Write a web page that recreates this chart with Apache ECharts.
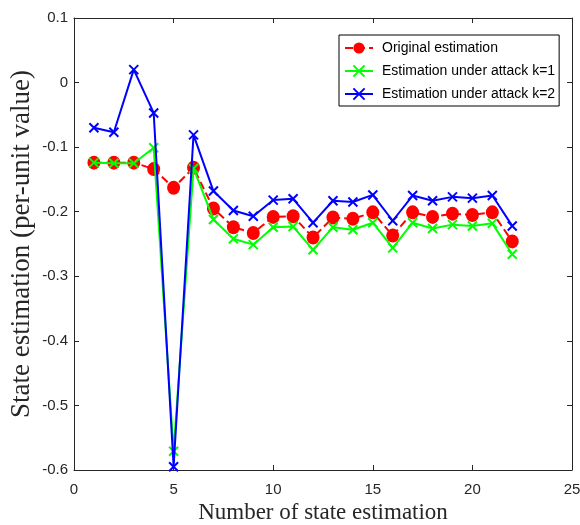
<!DOCTYPE html>
<html>
<head>
<meta charset="utf-8">
<script src="https://cdn.jsdelivr.net/npm/echarts@6/dist/echarts.min.js"></script>
<style>
html,body{margin:0;padding:0;background:#fff;}
#chart{width:580px;height:525px;}
</style>
</head>
<body>
<div id="chart"></div>
<script>
const stateIndex = [1,2,3,4,5,6,7,8,9,10,11,12,13,14,15,16,17,18,19,20,21,22];
const originalEst = [-0.124,-0.124,-0.124,-0.134,-0.163,-0.132,-0.195,-0.224,-0.233,-0.208,-0.207,-0.240,-0.209,-0.211,-0.201,-0.237,-0.201,-0.208,-0.203,-0.205,-0.201,-0.246];
const attackK1 = [-0.124,-0.125,-0.125,-0.101,-0.571,-0.133,-0.212,-0.242,-0.251,-0.224,-0.223,-0.259,-0.224,-0.228,-0.217,-0.256,-0.217,-0.226,-0.220,-0.222,-0.218,-0.266];
const attackK2 = [-0.070,-0.077,0.020,-0.047,-0.595,-0.081,-0.168,-0.198,-0.207,-0.182,-0.180,-0.217,-0.183,-0.185,-0.174,-0.214,-0.175,-0.183,-0.177,-0.179,-0.175,-0.222];
const seriesNames = ['Original estimation','Estimation under attack k=1','Estimation under attack k=2'];
const xTicks = [0,5,10,15,20,25];
const yTicks = [-0.6,-0.5,-0.4,-0.3,-0.2,-0.1,0,0.1];

const pair = arr => stateIndex.map((x,i)=>[x,arr[i]]);
const crossPath = 'path://M0,0L10,10M10,0L0,10';
const axisCol = '#262626';

const chart = echarts.init(document.getElementById('chart'));
const baseAxis = {
  axisLine:{show:true,onZero:false,lineStyle:{color:axisCol,width:1}},
  axisTick:{show:true,inside:true,length:5,lineStyle:{color:axisCol}},
  splitLine:{show:false}
};
chart.setOption({
  animation:false,
  backgroundColor:'#fff',
  grid:{left:74,right:8,top:18,bottom:55,containLabel:false,outerBoundsMode:'none'},
  legend:{
    orient:'vertical',left:339,top:35,
    itemWidth:28,itemHeight:14,itemGap:9,
    padding:[6,4,5,5],
    borderColor:'#000',borderWidth:1,backgroundColor:'#fff',
    textStyle:{fontFamily:'Liberation Sans, Arial',fontSize:14,color:'#000',padding:[0,0,0,4]},
    data:seriesNames
  },
  xAxis:[
    Object.assign({}, baseAxis, {type:'value',min:xTicks[0],max:xTicks[xTicks.length-1],interval:5,position:'bottom',
      name:'Number of state estimation',nameLocation:'middle',nameGap:30,
      nameTextStyle:{fontFamily:'Liberation Serif',fontSize:23,color:axisCol},
      axisLabel:{color:axisCol,fontFamily:'Liberation Sans, Arial',fontSize:15,margin:12}}),
    Object.assign({}, baseAxis, {type:'value',min:xTicks[0],max:xTicks[xTicks.length-1],interval:5,position:'top',axisLabel:{show:false}})
  ],
  yAxis:[
    Object.assign({}, baseAxis, {type:'value',min:yTicks[0],max:yTicks[yTicks.length-1],interval:0.1,position:'left',
      name:'State estimation (per-unit value)',nameLocation:'middle',nameGap:39,nameMoveOverlap:false,
      nameTextStyle:{fontFamily:'Liberation Serif',fontSize:27,color:axisCol},
      axisLabel:{color:axisCol,fontFamily:'Liberation Sans, Arial',fontSize:15,margin:6,
        formatter:v=>{const r=Math.round(v*10)/10;return r===0?'0':String(r);}}}),
    Object.assign({}, baseAxis, {type:'value',min:yTicks[0],max:yTicks[yTicks.length-1],interval:0.1,position:'right',axisLabel:{show:false}})
  ],
  series:[
    {name:seriesNames[0],type:'line',z:2,data:pair(originalEst),
     symbol:'circle',symbolSize:[13,14],
     lineStyle:{color:'#ff0000',width:2,type:'dashed'},
     itemStyle:{color:'#ff0000'}},
    {name:seriesNames[1],type:'line',z:3,data:pair(attackK1),
     symbol:crossPath,symbolSize:9,
     lineStyle:{color:'#00ff00',width:2},
     itemStyle:{color:'#00ff00',borderColor:'#00ff00',borderWidth:2}},
    {name:seriesNames[2],type:'line',z:4,data:pair(attackK2),
     symbol:crossPath,symbolSize:9,
     lineStyle:{color:'#0000ff',width:2},
     itemStyle:{color:'#0000ff',borderColor:'#0000ff',borderWidth:2}}
  ]
});
</script>
</body>
</html>
